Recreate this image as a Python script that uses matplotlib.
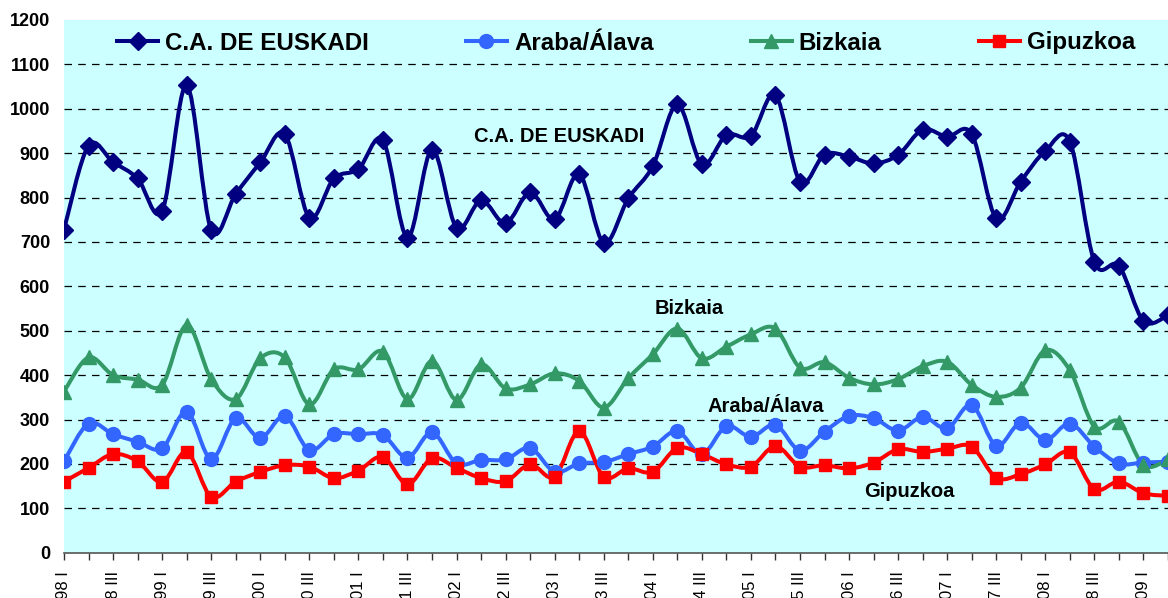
import numpy as np
import matplotlib
matplotlib.use("Agg")
import matplotlib.pyplot as plt
from matplotlib.path import Path
from matplotlib.patches import PathPatch
from matplotlib.lines import Line2D

plt.rcParams["font.family"] = ["Liberation Sans", "DejaVu Sans"]

# quarterly series, 98 I .. 09 II
years = ["98", "99", "00", "01", "02", "03", "04", "05", "06", "07", "08", "09"]
quarters = ["I", "II", "III", "IIII"]

euskadi = [728, 917, 880, 843, 770, 1053, 727, 808, 879, 943, 755, 843, 864, 929,
           710, 908, 732, 794, 742, 812, 751, 853, 698, 798, 871, 1010, 875, 941,
           939, 1031, 836, 897, 892, 877, 896, 953, 937, 943, 753, 836, 905, 926,
           655, 646, 522, 535]
araba = [206, 291, 267, 250, 235, 318, 211, 303, 258, 308, 231, 267, 267, 265,
         214, 271, 201, 209, 210, 236, 182, 201, 204, 222, 239, 274, 222, 285,
         261, 288, 230, 273, 308, 303, 275, 306, 280, 333, 241, 293, 254, 291,
         239, 201, 203, 205]
bizkaia = [363, 440, 400, 390, 378, 513, 391, 346, 438, 440, 334, 413, 413, 453,
           346, 432, 344, 424, 370, 379, 404, 387, 327, 393, 447, 505, 438, 464,
           492, 505, 417, 429, 394, 379, 391, 420, 430, 378, 351, 372, 456, 411,
           284, 295, 197, 210]
gipuzkoa = [160, 191, 222, 206, 159, 227, 126, 160, 182, 197, 194, 168, 185, 216,
            154, 213, 191, 168, 161, 199, 171, 274, 171, 190, 182, 236, 222, 199,
            194, 240, 194, 197, 190, 203, 233, 227, 234, 239, 169, 177, 199, 226,
            143, 160, 134, 128]

series = [
    ("C.A. DE EUSKADI", euskadi, "#000080", "D", 9),
    ("Araba/Álava", araba, "#3366FF", "o", 10),
    ("Bizkaia", bizkaia, "#339966", "^", 10),
    ("Gipuzkoa", gipuzkoa, "#FF0000", "s", 9),
]

inline = [("C.A. DE EUSKADI", 20.2, 937), ("Bizkaia", 25.5, 550),
          ("Araba/Álava", 28.6, 329), ("Gipuzkoa", 34.45, 137)]


def smooth_path(x, y):
    # Excel-style smoothed line: cubic Bezier segments through every point
    pts = np.column_stack([x, y]).astype(float)
    verts = [pts[0]]
    codes = [Path.MOVETO]
    n = len(pts)
    for i in range(n - 1):
        p0 = pts[i - 1] if i > 0 else pts[i]
        p3 = pts[i + 2] if i + 2 < n else pts[i + 1]
        c1 = pts[i] + (pts[i + 1] - p0) / 6
        c2 = pts[i + 1] - (p3 - pts[i]) / 6
        verts += [c1, c2, pts[i + 1]]
        codes += [Path.CURVE4] * 3
    return Path(verts, codes)


fig = plt.figure(figsize=(11.68, 5.98), dpi=100)
ax = fig.add_axes([64 / 1168, 45.3 / 598, 1104 / 1168, 532.7 / 598])
ax.set_facecolor("#CCFFFF")

x = np.arange(len(euskadi))
handles = []
for name, vals, col, mk, ms in series:
    ax.add_patch(PathPatch(smooth_path(x, vals), facecolor="none", edgecolor=col,
                           lw=2.9, zorder=3, clip_on=True))
    ax.plot(x, vals, ls="none", marker=mk, ms=ms, color=col, zorder=4, clip_on=True)
    handles.append(Line2D([], [], color=col, lw=2.9, marker=mk, ms=ms))

ax.set_xlim(0, 44.9)
ax.set_ylim(0, 1200)
ax.set_yticks(range(0, 1201, 100))
for v in range(100, 1200, 100):
    ax.axhline(v, color="black", lw=0.9, ls=(0, (6, 5)), zorder=1)

labels = [f"{years[i // 4]} {quarters[i % 4]}" if i % 2 == 0 else "" for i in x]
ax.set_xticks(x)
ax.set_xticklabels(labels, rotation=90, fontsize=12, va="top")
ax.tick_params(axis="x", length=5, width=1, color="#333333", pad=8)
ax.tick_params(axis="y", length=0, pad=10, labelsize=13)
for t in ax.get_yticklabels():
    t.set_fontweight("bold")

for s in ("top", "right", "left"):
    ax.spines[s].set_visible(False)
ax.spines["bottom"].set_color("#555555")
ax.spines["bottom"].set_linewidth(1.2)

for txt, tx, ty in inline:
    ax.text(tx, ty, txt, ha="center", va="center", fontsize=14.5, fontweight="bold", zorder=5)

ax.legend(handles, [s[0] for s in series], ncol=4, frameon=False,
          loc="center left", bbox_to_anchor=((117 - 64) / 1104, (552.7 - 43) / 532.7),
          prop={"size": 17.4, "weight": "bold"}, handlelength=1.7, handletextpad=0.3,
          columnspacing=4.0, borderaxespad=0, borderpad=0)

fig.savefig("out.png", dpi=100)
